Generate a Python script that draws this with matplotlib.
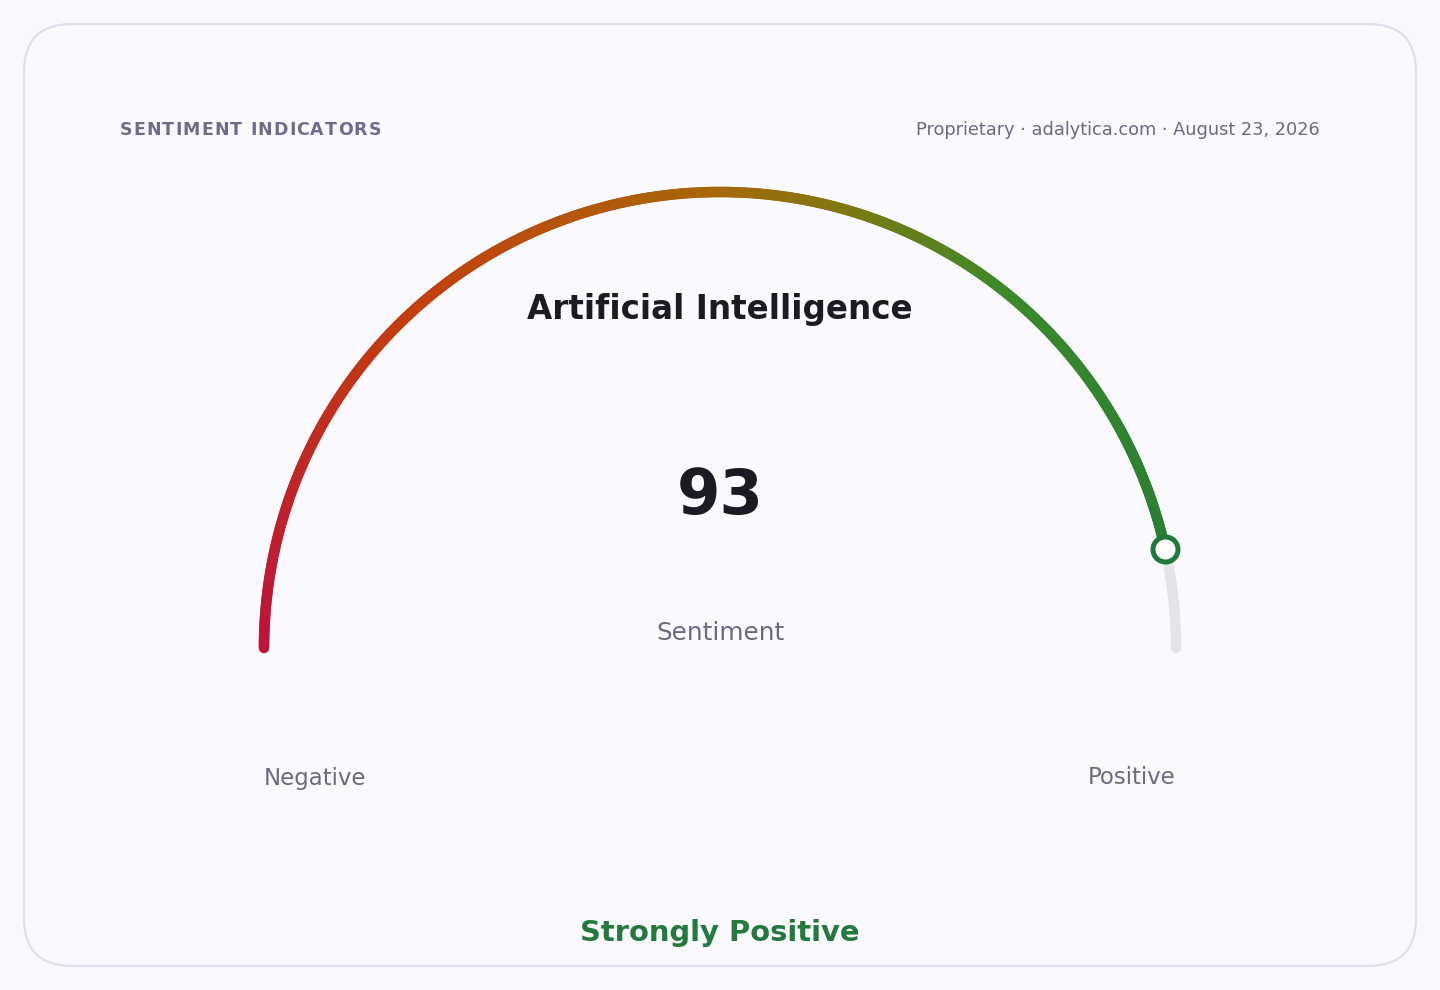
import numpy as np
import matplotlib.pyplot as plt
from matplotlib.collections import LineCollection
from matplotlib.colors import LinearSegmentedColormap
from matplotlib.patches import FancyBboxPatch

plt.rcParams['font.family'] = ['DejaVu Sans']

# Data
topic = "Artificial Intelligence"
score = 93
score_min, score_max = 0, 100
end_labels = ["Negative", "Positive"]
verdict = "Strongly Positive"
header_left = "SENTIMENT INDICATORS"
header_right = "Proprietary \u00b7 adalytica.com \u00b7 August 23, 2026"
center_label = "Sentiment"

# gradient stops along the arc
grad_pos = [0.0, 0.28, 0.5, 0.6, 0.72, 1.0]
grad_col = ["#be123c", "#c2410c", "#a8680a", "#7a7a12", "#3a8a2a", "#237a35"]

W, H = 1440, 990
fig = plt.figure(figsize=(W / 100, H / 100), dpi=100)
fig.patch.set_facecolor("#f8f8fd")
ax = fig.add_axes([0, 0, 1, 1])
ax.set_xlim(0, W)
ax.set_ylim(H, 0)
ax.axis("off")

# card
card = FancyBboxPatch((24, 24), 1392, 942, boxstyle="round,pad=0,rounding_size=48",
                      facecolor="#f9f9fe", edgecolor="#e0e0ee", linewidth=1.6)
ax.add_patch(card)

cx, cy, r = 720, 648, 456
lw = 7.6

# grey track
frac = (score - score_min) / (score_max - score_min)
ang_val = np.pi * (1 - frac)
t = np.linspace(ang_val, 0, 60)
ax.plot(cx + r * np.cos(t), cy - r * np.sin(t), color="#e3e3e8", lw=lw,
        solid_capstyle="round", zorder=2)

# coloured arc
cmap = LinearSegmentedColormap.from_list("sent", list(zip(grad_pos, grad_col)))
n = 400
a = np.linspace(np.pi, ang_val, n)
xs, ys = cx + r * np.cos(a), cy - r * np.sin(a)
pts = np.column_stack([xs, ys]).reshape(-1, 1, 2)
segs = np.concatenate([pts[:-1], pts[1:]], axis=1)
fr = 1 - (a[:-1] + a[1:]) / 2 / np.pi
lc = LineCollection(segs, colors=cmap(fr), linewidths=lw, capstyle="round", zorder=3)
ax.add_collection(lc)

# marker
ax.plot(cx + r * np.cos(ang_val), cy - r * np.sin(ang_val), "o", ms=18,
        mfc="white", mec="#1f7a3a", mew=3.6, zorder=4)


def spaced_text(x, y, s, spacing, **kw):
    # draw a string char by char with extra tracking (pixels)
    renderer = fig.canvas.get_renderer()
    for ch in s:
        tx = ax.text(x, y, ch, ha="left", va="center", **kw)
        w = tx.get_window_extent(renderer).width
        if ch == " ":
            w = ax.text(0, 0, "a a", **kw).get_window_extent(renderer).width - \
                ax.text(0, 0, "aa", **kw).get_window_extent(renderer).width
            ax.texts[-1].remove()
            ax.texts[-1].remove()
        x += w + spacing


# texts
muted = "#6b6a82"
spaced_text(120, 130, header_left, 1.1, fontsize=12.5, fontweight="bold",
            color="#6e6c8c")
ax.text(1320, 130, header_right, ha="right", va="center", fontsize=12.8, color=muted)
ax.text(720, 309, topic, ha="center", va="center", fontsize=23.5,
        fontweight="bold", color="#1b1b24")
ax.text(720, 497, str(score), ha="center", va="center", fontsize=45,
        fontweight="bold", color="#1b1b24")
ax.text(720, 633, center_label, ha="center", va="center", fontsize=17.8, color=muted)
ax.text(264, 778, end_labels[0], ha="left", va="center", fontsize=16.5, color=muted)
ax.text(1176, 778, end_labels[1], ha="right", va="center", fontsize=16.5, color=muted)
ax.text(720, 933, verdict, ha="center", va="center", fontsize=20.9,
        fontweight="bold", color="#237a3c")

fig.savefig("out.png", dpi=100, facecolor=fig.get_facecolor())
